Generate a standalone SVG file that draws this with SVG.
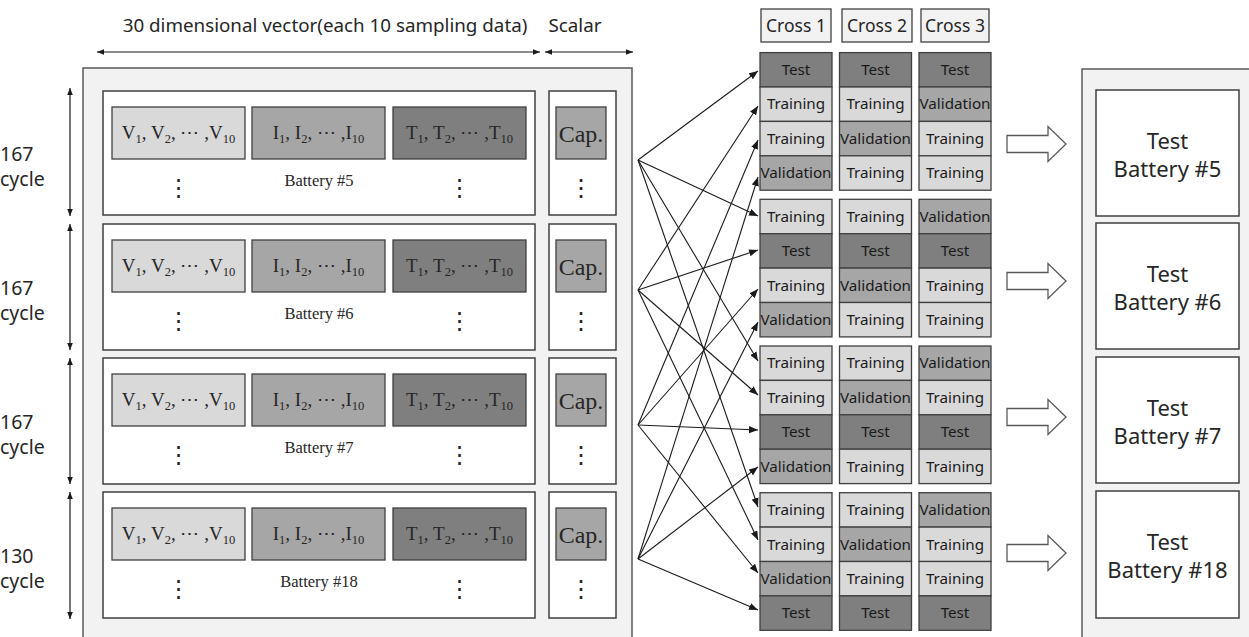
<svg xmlns="http://www.w3.org/2000/svg" width="1249" height="637" viewBox="0 0 1249 637">
<style>
.bg{fill:#ffffff}
.panel{fill:#f2f2f2;stroke:#595959;stroke-width:1.5}
.box{fill:#ffffff;stroke:#404040;stroke-width:1.5}
.lt{fill:#d9d9d9;stroke:#404040;stroke-width:1.3}
.md{fill:#a6a6a6;stroke:#404040;stroke-width:1.3}
.dk{fill:#7f7f7f;stroke:#404040;stroke-width:1.3}
.hdr{fill:#f2f2f2;stroke:#404040;stroke-width:1.3}
.sans{font-family:"Noto Sans","Open Sans","DejaVu Sans",sans-serif;fill:#262626}
.serif{font-family:"Liberation Serif","DejaVu Serif",serif;fill:#262626}
.cl{font-family:"Noto Sans","Open Sans","DejaVu Sans",sans-serif;font-size:15.2px;fill:#1a1a1a;text-anchor:middle}
.vit{font-size:19px;text-anchor:middle}
.sub{font-size:12.5px}
.dots{font-family:"DejaVu Sans",sans-serif;font-size:24px;fill:#262626;text-anchor:middle}
.bat{font-size:16.5px;text-anchor:middle}
.cyc{font-size:19.5px}
.tb{font-size:22px;text-anchor:middle}
.dim{stroke:#1a1a1a;stroke-width:1.2;fill:none;marker-start:url(#sh);marker-end:url(#sh)}
.con{stroke:#1a1a1a;stroke-width:1.1;fill:none;marker-end:url(#ah)}
.blk{fill:#ffffff;stroke:#595959;stroke-width:1.3}
</style>
<defs>
<marker id="ah" viewBox="0 0 10 8" refX="10" refY="4" markerWidth="9" markerHeight="7.2" markerUnits="userSpaceOnUse" orient="auto"><path d="M0,0 L10,4 L0,8 z" fill="#1a1a1a"/></marker>
<marker id="sh" viewBox="0 0 10 8" refX="10" refY="4" markerWidth="7" markerHeight="5.6" markerUnits="userSpaceOnUse" orient="auto-start-reverse"><path d="M0,0 L10,4 L0,8 z" fill="#1a1a1a"/></marker>
</defs>
<rect class="bg" x="0" y="0" width="1249" height="637"/>

<!-- header -->
<g id="header">
<text class="sans" x="325" y="32" font-size="18.8" text-anchor="middle">30 dimensional vector(each 10 sampling data)</text>
<text class="sans" x="575" y="32" font-size="18.8" text-anchor="middle">Scalar</text>
<line class="dim" x1="97" y1="52" x2="540" y2="52"/>
<line class="dim" x1="545" y1="52" x2="633" y2="52"/>
</g>

<!-- left panel -->
<g id="input-panel">
<rect class="panel" x="83" y="68" width="549" height="580"/>
</g>

<!-- cycle arrows and labels -->
<g id="cycles">
<line class="dim" x1="70" y1="88" x2="70" y2="216"/>
<line class="dim" x1="70" y1="224" x2="70" y2="350"/>
<line class="dim" x1="70" y1="358" x2="70" y2="484"/>
<line class="dim" x1="70" y1="492" x2="70" y2="619"/>
<text class="sans cyc" x="0" y="161">167</text>
<text class="sans cyc" x="0" y="186">cycle</text>
<text class="sans cyc" x="0" y="295">167</text>
<text class="sans cyc" x="0" y="320">cycle</text>
<text class="sans cyc" x="0" y="429">167</text>
<text class="sans cyc" x="0" y="454">cycle</text>
<text class="sans cyc" x="0" y="563">130</text>
<text class="sans cyc" x="0" y="588">cycle</text>
</g>

<!-- Battery #5 -->
<g id="battery5">
<rect class="box" x="103" y="91" width="432" height="124"/>
<rect class="lt" x="112" y="107" width="133" height="52"/>
<rect class="md" x="252" y="107" width="133" height="52"/>
<rect class="dk" x="393" y="107" width="133" height="52"/>
<text class="serif vit" x="178.5" y="139">V<tspan class="sub" dy="4">1</tspan><tspan dy="-4">, V</tspan><tspan class="sub" dy="4">2</tspan><tspan dy="-4">, ⋯ ,V</tspan><tspan class="sub" dy="4">10</tspan></text>
<text class="serif vit" x="318.5" y="139">I<tspan class="sub" dy="4">1</tspan><tspan dy="-4">, I</tspan><tspan class="sub" dy="4">2</tspan><tspan dy="-4">, ⋯ ,I</tspan><tspan class="sub" dy="4">10</tspan></text>
<text class="serif vit" x="459.5" y="139">T<tspan class="sub" dy="4">1</tspan><tspan dy="-4">, T</tspan><tspan class="sub" dy="4">2</tspan><tspan dy="-4">, ⋯ ,T</tspan><tspan class="sub" dy="4">10</tspan></text>
<text class="serif bat" x="319" y="186">Battery #5</text>
<text class="dots" x="178.5" y="196">⋮</text>
<text class="dots" x="459.5" y="196">⋮</text>
</g>
<g id="scalar5">
<rect class="box" x="549" y="91" width="67" height="124"/>
<rect class="md" x="556" y="107" width="50" height="52"/>
<text class="serif" x="581" y="142" font-size="24" text-anchor="middle">Cap.</text>
<text class="dots" x="581" y="196">⋮</text>
</g>

<!-- Battery #6 -->
<g id="battery6">
<rect class="box" x="103" y="224" width="432" height="126"/>
<rect class="lt" x="112" y="240" width="133" height="52"/>
<rect class="md" x="252" y="240" width="133" height="52"/>
<rect class="dk" x="393" y="240" width="133" height="52"/>
<text class="serif vit" x="178.5" y="272">V<tspan class="sub" dy="4">1</tspan><tspan dy="-4">, V</tspan><tspan class="sub" dy="4">2</tspan><tspan dy="-4">, ⋯ ,V</tspan><tspan class="sub" dy="4">10</tspan></text>
<text class="serif vit" x="318.5" y="272">I<tspan class="sub" dy="4">1</tspan><tspan dy="-4">, I</tspan><tspan class="sub" dy="4">2</tspan><tspan dy="-4">, ⋯ ,I</tspan><tspan class="sub" dy="4">10</tspan></text>
<text class="serif vit" x="459.5" y="272">T<tspan class="sub" dy="4">1</tspan><tspan dy="-4">, T</tspan><tspan class="sub" dy="4">2</tspan><tspan dy="-4">, ⋯ ,T</tspan><tspan class="sub" dy="4">10</tspan></text>
<text class="serif bat" x="319" y="319">Battery #6</text>
<text class="dots" x="178.5" y="329">⋮</text>
<text class="dots" x="459.5" y="329">⋮</text>
</g>
<g id="scalar6">
<rect class="box" x="549" y="224" width="67" height="126"/>
<rect class="md" x="556" y="240" width="50" height="52"/>
<text class="serif" x="581" y="275" font-size="24" text-anchor="middle">Cap.</text>
<text class="dots" x="581" y="329">⋮</text>
</g>

<!-- Battery #7 -->
<g id="battery7">
<rect class="box" x="103" y="358" width="432" height="126"/>
<rect class="lt" x="112" y="374" width="133" height="52"/>
<rect class="md" x="252" y="374" width="133" height="52"/>
<rect class="dk" x="393" y="374" width="133" height="52"/>
<text class="serif vit" x="178.5" y="406">V<tspan class="sub" dy="4">1</tspan><tspan dy="-4">, V</tspan><tspan class="sub" dy="4">2</tspan><tspan dy="-4">, ⋯ ,V</tspan><tspan class="sub" dy="4">10</tspan></text>
<text class="serif vit" x="318.5" y="406">I<tspan class="sub" dy="4">1</tspan><tspan dy="-4">, I</tspan><tspan class="sub" dy="4">2</tspan><tspan dy="-4">, ⋯ ,I</tspan><tspan class="sub" dy="4">10</tspan></text>
<text class="serif vit" x="459.5" y="406">T<tspan class="sub" dy="4">1</tspan><tspan dy="-4">, T</tspan><tspan class="sub" dy="4">2</tspan><tspan dy="-4">, ⋯ ,T</tspan><tspan class="sub" dy="4">10</tspan></text>
<text class="serif bat" x="319" y="453">Battery #7</text>
<text class="dots" x="178.5" y="463">⋮</text>
<text class="dots" x="459.5" y="463">⋮</text>
</g>
<g id="scalar7">
<rect class="box" x="549" y="358" width="67" height="126"/>
<rect class="md" x="556" y="374" width="50" height="52"/>
<text class="serif" x="581" y="409" font-size="24" text-anchor="middle">Cap.</text>
<text class="dots" x="581" y="463">⋮</text>
</g>

<!-- Battery #18 -->
<g id="battery18">
<rect class="box" x="103" y="492" width="432" height="126"/>
<rect class="lt" x="112" y="508" width="133" height="52"/>
<rect class="md" x="252" y="508" width="133" height="52"/>
<rect class="dk" x="393" y="508" width="133" height="52"/>
<text class="serif vit" x="178.5" y="540">V<tspan class="sub" dy="4">1</tspan><tspan dy="-4">, V</tspan><tspan class="sub" dy="4">2</tspan><tspan dy="-4">, ⋯ ,V</tspan><tspan class="sub" dy="4">10</tspan></text>
<text class="serif vit" x="318.5" y="540">I<tspan class="sub" dy="4">1</tspan><tspan dy="-4">, I</tspan><tspan class="sub" dy="4">2</tspan><tspan dy="-4">, ⋯ ,I</tspan><tspan class="sub" dy="4">10</tspan></text>
<text class="serif vit" x="459.5" y="540">T<tspan class="sub" dy="4">1</tspan><tspan dy="-4">, T</tspan><tspan class="sub" dy="4">2</tspan><tspan dy="-4">, ⋯ ,T</tspan><tspan class="sub" dy="4">10</tspan></text>
<text class="serif bat" x="319" y="587">Battery #18</text>
<text class="dots" x="178.5" y="597">⋮</text>
<text class="dots" x="459.5" y="597">⋮</text>
</g>
<g id="scalar18">
<rect class="box" x="549" y="492" width="67" height="126"/>
<rect class="md" x="556" y="508" width="50" height="52"/>
<text class="serif" x="581" y="543" font-size="24" text-anchor="middle">Cap.</text>
<text class="dots" x="581" y="597">⋮</text>
</g>

<!-- Cross headers -->
<g id="cross1-header"><rect class="hdr" x="761" y="9" width="70" height="33"/><text class="sans" x="796" y="32" font-size="17.5" text-anchor="middle">Cross 1</text></g>
<g id="cross2-header"><rect class="hdr" x="842" y="9" width="70" height="33"/><text class="sans" x="877" y="32" font-size="17.5" text-anchor="middle">Cross 2</text></g>
<g id="cross3-header"><rect class="hdr" x="921" y="9" width="68" height="33"/><text class="sans" x="955" y="32" font-size="17.5" text-anchor="middle">Cross 3</text></g>

<!-- Group 1 -->
<g id="g1-cross1">
<rect class="dk" x="760" y="52.6" width="72" height="34.4"/><text class="cl" x="796" y="75">Test</text>
<rect class="lt" x="760" y="87" width="72" height="34.4"/><text class="cl" x="796" y="109.4">Training</text>
<rect class="lt" x="760" y="121.4" width="72" height="34.4"/><text class="cl" x="796" y="143.8">Training</text>
<rect class="md" x="760" y="155.8" width="72" height="34.4"/><text class="cl" x="796" y="178.2">Validation</text>
</g>
<g id="g1-cross2">
<rect class="dk" x="839.5" y="52.6" width="72" height="34.4"/><text class="cl" x="875.5" y="75">Test</text>
<rect class="lt" x="839.5" y="87" width="72" height="34.4"/><text class="cl" x="875.5" y="109.4">Training</text>
<rect class="md" x="839.5" y="121.4" width="72" height="34.4"/><text class="cl" x="875.5" y="143.8">Validation</text>
<rect class="lt" x="839.5" y="155.8" width="72" height="34.4"/><text class="cl" x="875.5" y="178.2">Training</text>
</g>
<g id="g1-cross3">
<rect class="dk" x="919" y="52.6" width="72" height="34.4"/><text class="cl" x="955" y="75">Test</text>
<rect class="md" x="919" y="87" width="72" height="34.4"/><text class="cl" x="955" y="109.4">Validation</text>
<rect class="lt" x="919" y="121.4" width="72" height="34.4"/><text class="cl" x="955" y="143.8">Training</text>
<rect class="lt" x="919" y="155.8" width="72" height="34.4"/><text class="cl" x="955" y="178.2">Training</text>
</g>

<!-- Group 2 -->
<g id="g2-cross1">
<rect class="lt" x="760" y="199.3" width="72" height="34.4"/><text class="cl" x="796" y="221.7">Training</text>
<rect class="dk" x="760" y="233.7" width="72" height="34.4"/><text class="cl" x="796" y="256.1">Test</text>
<rect class="lt" x="760" y="268.1" width="72" height="34.4"/><text class="cl" x="796" y="290.5">Training</text>
<rect class="md" x="760" y="302.5" width="72" height="34.4"/><text class="cl" x="796" y="324.9">Validation</text>
</g>
<g id="g2-cross2">
<rect class="lt" x="839.5" y="199.3" width="72" height="34.4"/><text class="cl" x="875.5" y="221.7">Training</text>
<rect class="dk" x="839.5" y="233.7" width="72" height="34.4"/><text class="cl" x="875.5" y="256.1">Test</text>
<rect class="md" x="839.5" y="268.1" width="72" height="34.4"/><text class="cl" x="875.5" y="290.5">Validation</text>
<rect class="lt" x="839.5" y="302.5" width="72" height="34.4"/><text class="cl" x="875.5" y="324.9">Training</text>
</g>
<g id="g2-cross3">
<rect class="md" x="919" y="199.3" width="72" height="34.4"/><text class="cl" x="955" y="221.7">Validation</text>
<rect class="dk" x="919" y="233.7" width="72" height="34.4"/><text class="cl" x="955" y="256.1">Test</text>
<rect class="lt" x="919" y="268.1" width="72" height="34.4"/><text class="cl" x="955" y="290.5">Training</text>
<rect class="lt" x="919" y="302.5" width="72" height="34.4"/><text class="cl" x="955" y="324.9">Training</text>
</g>

<!-- Group 3 -->
<g id="g3-cross1">
<rect class="lt" x="760" y="346" width="72" height="34.4"/><text class="cl" x="796" y="368.4">Training</text>
<rect class="lt" x="760" y="380.4" width="72" height="34.4"/><text class="cl" x="796" y="402.8">Training</text>
<rect class="dk" x="760" y="414.8" width="72" height="34.4"/><text class="cl" x="796" y="437.2">Test</text>
<rect class="md" x="760" y="449.2" width="72" height="34.4"/><text class="cl" x="796" y="471.6">Validation</text>
</g>
<g id="g3-cross2">
<rect class="lt" x="839.5" y="346" width="72" height="34.4"/><text class="cl" x="875.5" y="368.4">Training</text>
<rect class="md" x="839.5" y="380.4" width="72" height="34.4"/><text class="cl" x="875.5" y="402.8">Validation</text>
<rect class="dk" x="839.5" y="414.8" width="72" height="34.4"/><text class="cl" x="875.5" y="437.2">Test</text>
<rect class="lt" x="839.5" y="449.2" width="72" height="34.4"/><text class="cl" x="875.5" y="471.6">Training</text>
</g>
<g id="g3-cross3">
<rect class="md" x="919" y="346" width="72" height="34.4"/><text class="cl" x="955" y="368.4">Validation</text>
<rect class="lt" x="919" y="380.4" width="72" height="34.4"/><text class="cl" x="955" y="402.8">Training</text>
<rect class="dk" x="919" y="414.8" width="72" height="34.4"/><text class="cl" x="955" y="437.2">Test</text>
<rect class="lt" x="919" y="449.2" width="72" height="34.4"/><text class="cl" x="955" y="471.6">Training</text>
</g>

<!-- Group 4 -->
<g id="g4-cross1">
<rect class="lt" x="760" y="492.7" width="72" height="34.4"/><text class="cl" x="796" y="515.1">Training</text>
<rect class="lt" x="760" y="527.1" width="72" height="34.4"/><text class="cl" x="796" y="549.5">Training</text>
<rect class="md" x="760" y="561.5" width="72" height="34.4"/><text class="cl" x="796" y="583.9">Validation</text>
<rect class="dk" x="760" y="595.9" width="72" height="34.4"/><text class="cl" x="796" y="618.3">Test</text>
</g>
<g id="g4-cross2">
<rect class="lt" x="839.5" y="492.7" width="72" height="34.4"/><text class="cl" x="875.5" y="515.1">Training</text>
<rect class="md" x="839.5" y="527.1" width="72" height="34.4"/><text class="cl" x="875.5" y="549.5">Validation</text>
<rect class="lt" x="839.5" y="561.5" width="72" height="34.4"/><text class="cl" x="875.5" y="583.9">Training</text>
<rect class="dk" x="839.5" y="595.9" width="72" height="34.4"/><text class="cl" x="875.5" y="618.3">Test</text>
</g>
<g id="g4-cross3">
<rect class="md" x="919" y="492.7" width="72" height="34.4"/><text class="cl" x="955" y="515.1">Validation</text>
<rect class="lt" x="919" y="527.1" width="72" height="34.4"/><text class="cl" x="955" y="549.5">Training</text>
<rect class="lt" x="919" y="561.5" width="72" height="34.4"/><text class="cl" x="955" y="583.9">Training</text>
<rect class="dk" x="919" y="595.9" width="72" height="34.4"/><text class="cl" x="955" y="618.3">Test</text>
</g>

<!-- connectors -->
<g id="connectors">
<line class="con" x1="638" y1="160" x2="758" y2="71"/>
<line class="con" x1="638" y1="160" x2="758" y2="216"/>
<line class="con" x1="638" y1="160" x2="758" y2="361"/>
<line class="con" x1="638" y1="160" x2="758" y2="507"/>
<line class="con" x1="638" y1="290" x2="758" y2="106"/>
<line class="con" x1="638" y1="290" x2="758" y2="250"/>
<line class="con" x1="638" y1="290" x2="758" y2="395"/>
<line class="con" x1="638" y1="290" x2="758" y2="540"/>
<line class="con" x1="638" y1="425" x2="758" y2="140"/>
<line class="con" x1="638" y1="425" x2="758" y2="289"/>
<line class="con" x1="638" y1="425" x2="758" y2="430"/>
<line class="con" x1="638" y1="425" x2="758" y2="573"/>
<line class="con" x1="638" y1="559" x2="758" y2="177"/>
<line class="con" x1="638" y1="559" x2="758" y2="322"/>
<line class="con" x1="638" y1="559" x2="758" y2="467"/>
<line class="con" x1="638" y1="559" x2="758" y2="610"/>
</g>

<!-- block arrows -->
<g id="block-arrows">
<path class="blk" d="M1007,135.5 H1048 V126.5 L1066,144 L1048,161.5 V152.5 H1007 Z"/>
<path class="blk" d="M1007,272.5 H1048 V263.5 L1066,281 L1048,298.5 V289.5 H1007 Z"/>
<path class="blk" d="M1007,408.5 H1048 V399.5 L1066,417 L1048,434.5 V425.5 H1007 Z"/>
<path class="blk" d="M1007,544.5 H1048 V535.5 L1066,553 L1048,570.5 V561.5 H1007 Z"/>
</g>

<!-- right panel -->
<g id="test-panel">
<rect class="panel" x="1082" y="69" width="180" height="580"/>
</g>
<g id="test5"><rect class="box" x="1096" y="90" width="143" height="126"/><text class="sans tb" x="1167.5" y="148.5">Test</text><text class="sans tb" x="1167.5" y="176.5">Battery #5</text></g>
<g id="test6"><rect class="box" x="1096" y="223" width="143" height="126"/><text class="sans tb" x="1167.5" y="281.5">Test</text><text class="sans tb" x="1167.5" y="309.5">Battery #6</text></g>
<g id="test7"><rect class="box" x="1096" y="357" width="143" height="126"/><text class="sans tb" x="1167.5" y="415.5">Test</text><text class="sans tb" x="1167.5" y="443.5">Battery #7</text></g>
<g id="test18"><rect class="box" x="1096" y="491" width="143" height="127"/><text class="sans tb" x="1167.5" y="550">Test</text><text class="sans tb" x="1167.5" y="578">Battery #18</text></g>
</svg>
